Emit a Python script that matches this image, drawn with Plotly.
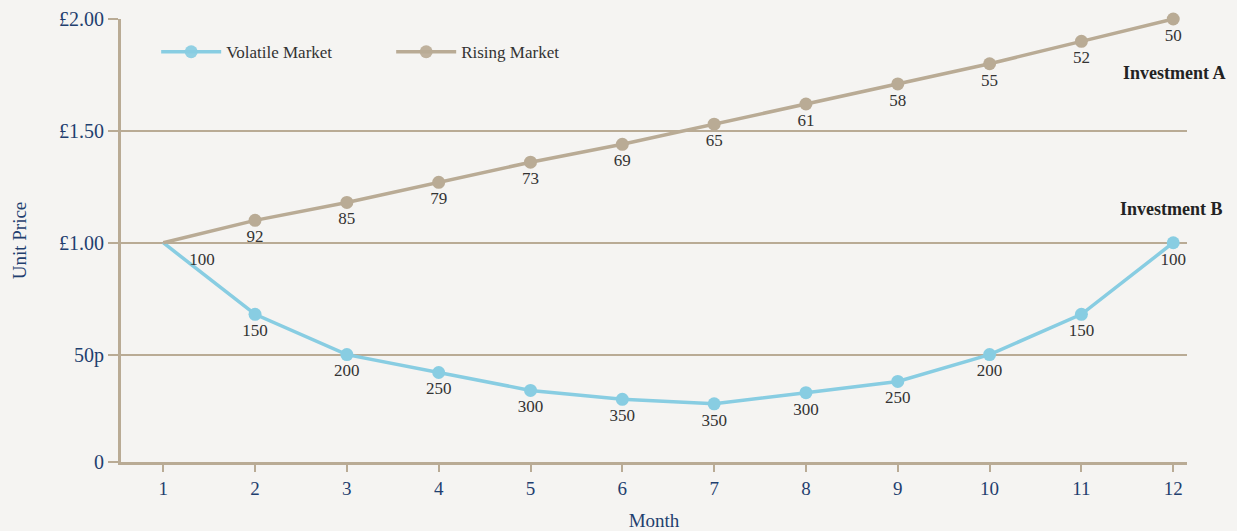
import plotly.graph_objects as go

months = [1, 2, 3, 4, 5, 6, 7, 8, 9, 10, 11, 12]
volatile_price = [1.00, 0.68, 0.50, 0.42, 0.34, 0.30, 0.28, 0.33, 0.38, 0.50, 0.68, 1.00]
volatile_units = [100, 150, 200, 250, 300, 350, 350, 300, 250, 200, 150, 100]
rising_price = [1.00, 1.10, 1.18, 1.27, 1.36, 1.44, 1.53, 1.62, 1.71, 1.80, 1.90, 2.00]
rising_units = [100, 92, 85, 79, 73, 69, 65, 61, 58, 55, 52, 50]
y_tick_vals = [0.02, 0.5, 1.0, 1.5, 2.0]
y_tick_text = ["0", "50p", "£1.00", "£1.50", "£2.00"]

BLUE = "#88cde2"
TAN = "#b9ab95"
NAVY = "#1f3f6f"
TXT = "#333333"
BG = "#f5f4f2"
FONT = "Liberation Serif"
NB = "\u00a0"

fig = go.Figure()

fig.add_trace(go.Scatter(
    x=months, y=volatile_price, name="Volatile Market",
    mode="lines+markers+text",
    line=dict(color=BLUE, width=3.5),
    marker=dict(color=BLUE, size=13, opacity=[0] + [1] * 11),
    text=[""] + [str(u) for u in volatile_units[1:]],
    textposition="bottom center",
    textfont=dict(family=FONT, size=17, color=TXT),
    cliponaxis=False,
))
fig.add_trace(go.Scatter(
    x=months, y=rising_price, name="Rising Market",
    mode="lines+markers+text",
    line=dict(color=TAN, width=3.5),
    marker=dict(color=TAN, size=13, opacity=[0] + [1] * 11),
    text=[NB * 4 + str(rising_units[0])] + [str(u) for u in rising_units[1:]],
    textposition=["bottom right"] + ["bottom center"] * 11,
    textfont=dict(family=FONT, size=17, color=TXT),
    cliponaxis=False,
))

fig.add_annotation(x=1.0385, xref="paper", xanchor="right", y=rising_price[-1] - 0.24, yref="y",
                   text="<b>Investment A</b>", showarrow=False,
                   font=dict(family=FONT, size=18, color="#222222"))
fig.add_annotation(x=1.036, xref="paper", xanchor="right", y=volatile_price[-1] + 0.15, yref="y",
                   text="<b>Investment B</b>", showarrow=False,
                   font=dict(family=FONT, size=18, color="#222222"))

fig.update_layout(
    width=1237, height=531,
    margin=dict(l=121, r=50, t=19, b=69),
    paper_bgcolor=BG, plot_bgcolor=BG,
    font=dict(family=FONT, color=NAVY),
    legend=dict(orientation="h", x=0.033, y=0.925, xanchor="left", yanchor="middle",
                bgcolor="rgba(0,0,0,0)", entrywidth=160, entrywidthmode="pixels",
                itemwidth=60,
                font=dict(family=FONT, size=17, color=TXT)),
    showlegend=True,
)
fig.update_xaxes(
    range=[0.54, 12.15], tickvals=months, showgrid=False, zeroline=False,
    showline=True, linecolor=TAN, linewidth=3, automargin=False,
    ticks="outside", ticklen=7, tickcolor=TAN, tickwidth=2,
    tickfont=dict(family=FONT, size=19, color=NAVY),
    title=dict(text="Month", font=dict(family=FONT, size=19, color=NAVY), standoff=16),
)
fig.update_yaxes(
    range=[0.02, 2.0], tickvals=y_tick_vals, ticktext=y_tick_text,
    showgrid=True, gridcolor=TAN, gridwidth=2, zeroline=False,
    showline=True, linecolor=TAN, linewidth=3, automargin=False,
    ticks="outside", ticklen=10, tickcolor=TAN, tickwidth=2,
    tickfont=dict(family=FONT, size=20, color=NAVY),
    title=dict(text="Unit Price", font=dict(family=FONT, size=19, color=NAVY), standoff=28),
)

fig.write_html("out.html")
